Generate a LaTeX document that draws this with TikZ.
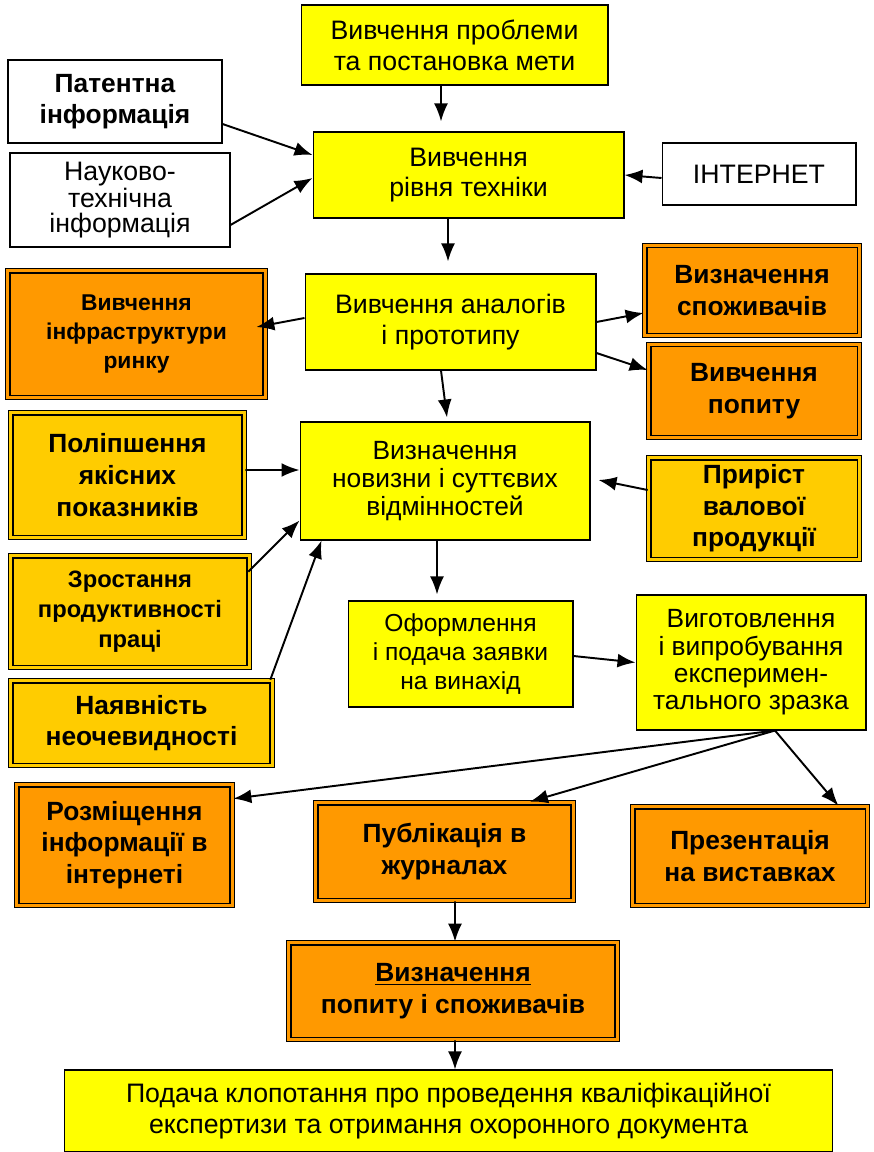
\documentclass[tikz,border=0pt]{standalone}
\usepackage{fontspec}
\setmainfont{Liberation Sans}
\usetikzlibrary{arrows.meta,calc}
\definecolor{boxyellow}{HTML}{FFFF00}
\definecolor{boxorange}{HTML}{FF9900}
\definecolor{boxgold}{HTML}{FFCC00}

\begin{document}
\begin{tikzpicture}[x=0.02cm, y=-0.02cm,
    every node/.style={font=\fontsize{15.2}{17.5}\selectfont},
    plainbox/.style={draw, line width=0.6pt, align=center, inner sep=2pt, fill=white},
    yellowbox/.style={plainbox, fill=boxyellow},
    framebox/.style={draw=black, line width=1pt, double distance=1.4pt, align=center, inner sep=2pt,
      font=\fontsize{15}{18}\selectfont\bfseries},
    orangebox/.style={framebox, fill=boxorange, double=boxorange},
    goldbox/.style={framebox, fill=boxgold, double=boxgold},
    conn/.style={-{Latex[length=3.6mm,width=2.8mm]}, line width=1.1pt}]
  \useasboundingbox (0,0) rectangle (874,1152);

  \node[yellowbox, minimum width=6.14cm, minimum height=1.60cm] (prob) at (454.5,45) {Вивчення проблеми\\та постановка мети};
  \node[plainbox, minimum width=4.28cm, minimum height=1.66cm, font=\fontsize{15}{18}\selectfont\bfseries] (pat) at (115,101.5) {Патентна\\інформація};
  \node[plainbox, minimum width=4.40cm, minimum height=1.88cm, font=\fontsize{15.2}{14}\selectfont] (nauk) at (120,200) {Науково-\\технічна\\інформація};
  \node[yellowbox, minimum width=6.22cm, minimum height=1.72cm] (tech) at (468.5,175) {Вивчення\\рівня техніки};
  \node[plainbox, minimum width=3.88cm, minimum height=1.24cm] (inet) at (759,174) {ІНТЕРНЕТ};

  \node[orangebox, minimum width=5.16cm, minimum height=2.54cm, font=\fontsize{13}{16.5}\selectfont\bfseries] (infra) at (136.5,334) {Вивчення\\інфраструктури\\ринку};
  \node[yellowbox, minimum width=5.82cm, minimum height=1.92cm] (anal) at (450.5,322) {Вивчення аналогів\\і прототипу};
  \node[orangebox, minimum width=4.30cm, minimum height=1.80cm] (spoz) at (752,290.5) {Визначення\\споживачів};
  \node[orangebox, minimum width=4.22cm, minimum height=1.86cm] (popyt) at (754,391) {Вивчення\\попиту};

  \node[goldbox, minimum width=4.68cm, minimum height=2.50cm] (polip) at (127.5,475) {Поліпшення\\якісних\\показників};
  \node[yellowbox, minimum width=5.80cm, minimum height=2.36cm, font=\fontsize{15}{16}\selectfont] (novyz) at (445,481) {Визначення\\новизни і суттєвих\\відмінностей};
  \node[goldbox, minimum width=4.22cm, minimum height=2.04cm] (pryr) at (754,508.5) {Приріст\\валової\\продукції};
  \node[goldbox, minimum width=4.78cm, minimum height=2.24cm, font=\fontsize{13.5}{17}\selectfont\bfseries] (zrost) at (130,611.5) {Зростання\\продуктивності\\праці};
  \node[goldbox, minimum width=5.24cm, minimum height=1.70cm] (nayav) at (141.5,723) {Наявність\\неочевидності};

  \node[yellowbox, minimum width=4.50cm, minimum height=2.12cm, font=\fontsize{14}{16.5}\selectfont] (oform) at (460.5,654) {Оформлення\\і подача заявки\\на винахід};
  \node[yellowbox, minimum width=4.60cm, minimum height=2.70cm, font=\fontsize{15}{15.5}\selectfont] (vyhot) at (751,662.5) {Виготовлення\\і випробування\\експеримен-\\тального зразка};

  \node[orangebox, minimum width=4.32cm, minimum height=2.42cm] (rozm) at (124.5,845) {Розміщення\\інформації в\\інтернеті};
  \node[orangebox, minimum width=5.16cm, minimum height=1.96cm] (publ) at (444.5,851.5) {Публікація в\\журналах};
  \node[orangebox, minimum width=4.70cm, minimum height=1.98cm] (prez) at (750,856) {Презентація\\на виставках};
  \node[orangebox, minimum width=6.58cm, minimum height=1.94cm] (popsp) at (453,991) {\underline{Визначення}\\попиту і споживачів};
  \node[yellowbox, minimum width=15.38cm, minimum height=1.64cm] (klop) at (448.5,1111) {Подача клопотання про проведення кваліфікаційної\\експертизи та отримання охоронного документа};

  % arrows
  \draw[conn] ([xshift=-0.27cm]prob.south) -- ([xshift=-0.55cm,yshift=0.2cm]tech.north);
  \draw[conn] ([yshift=-0.45cm]pat.east) -- ([yshift=0.4cm]tech.west);
  \draw[conn] ([yshift=-0.5cm]nauk.east) -- ([yshift=-0.06cm]tech.west);
  \draw[conn] ([yshift=-0.08cm]inet.west) -- (tech.east);
  \draw[conn] ([xshift=-0.41cm]tech.south) -- ([xshift=-0.05cm,yshift=0.24cm]anal.north);
  \draw[conn] ([yshift=0.08cm]anal.west) -- ([xshift=-0.2cm,yshift=0.14cm]infra.east);
  \draw[conn] (anal.east) -- ([yshift=-0.45cm]spoz.west);
  \draw[conn] ([yshift=-0.62cm]anal.east) -- ([yshift=0.42cm]popyt.west);
  \draw[conn] ([xshift=-0.19cm]anal.south) -- ([xshift=0.04cm,yshift=0.08cm]novyz.north);
  \draw[conn] ([yshift=0.1cm]polip.east) -- ([yshift=0.22cm]novyz.west);
  \draw[conn] ([yshift=0.37cm]pryr.west) -- ([xshift=0.16cm,yshift=0.02cm]novyz.east);
  \draw[conn] ([xshift=-0.04cm,yshift=-0.34cm]zrost.north east) -- ([yshift=0.4cm]novyz.south west);
  \draw[conn] ([xshift=-0.06cm]nayav.north east) -- ([xshift=0.44cm]novyz.south west);
  \draw[conn] ([xshift=-0.16cm]novyz.south) -- ([xshift=-0.47cm,yshift=0.12cm]oform.north);
  \draw[conn] ([yshift=-0.04cm]oform.east) -- (vyhot.west);
  \coordinate (fork) at ([xshift=0.48cm]vyhot.south);
  \draw[conn] (fork) -- ([yshift=-0.3cm]rozm.north east);
  \draw[conn] (fork) -- ([xshift=1.71cm]publ.north);
  \draw[conn] (fork) -- ([xshift=-0.6cm]prez.north east);
  \draw[conn] ([xshift=0.21cm]publ.south) -- ([xshift=0.04cm]popsp.north);
  \draw[conn] ([xshift=0.04cm]popsp.south) -- ([xshift=0.13cm]klop.north);
\end{tikzpicture}
\end{document}
